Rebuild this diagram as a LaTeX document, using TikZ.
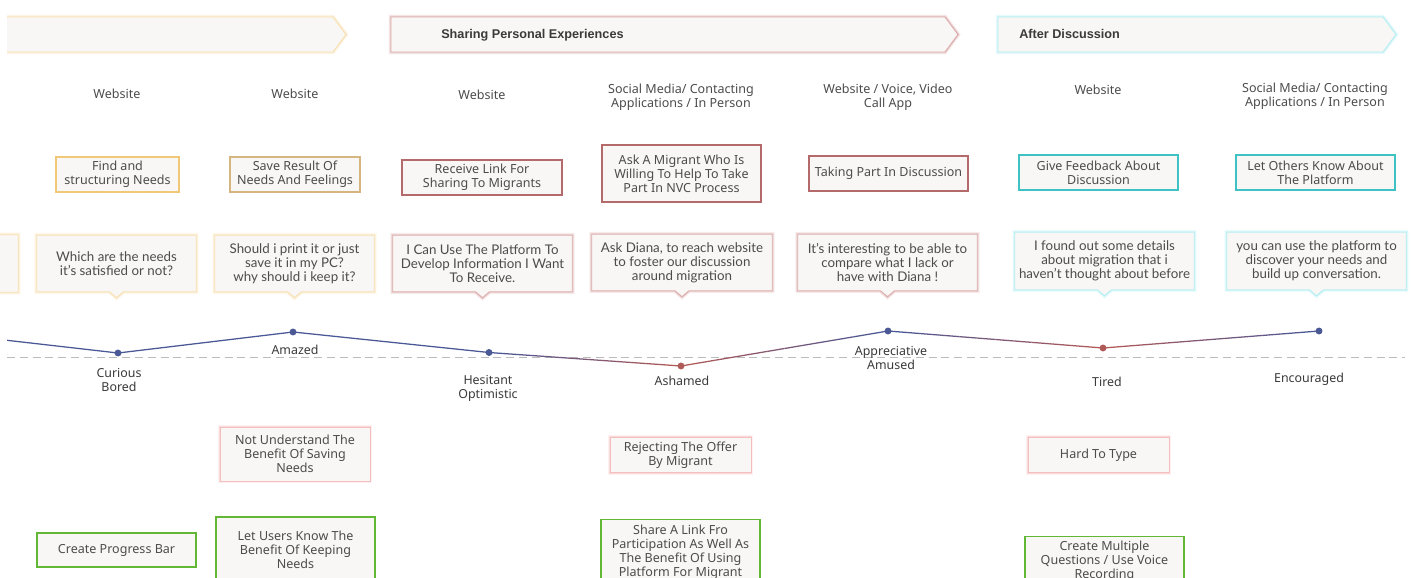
\documentclass[tikz,border=0pt]{standalone}
\usepackage{fontspec}
\setmainfont{Noto Sans}
\newfontfamily\bubblefont{Lato}
\newfontfamily\phasefont{Liberation Sans}
\usetikzlibrary{calc,backgrounds}

\definecolor{paper}{HTML}{F8F7F5}
\definecolor{inktext}{HTML}{4C4C4C}
\definecolor{inkdark}{HTML}{3A3A3A}
\definecolor{sandline}{HTML}{F0C878}
\definecolor{tanline}{HTML}{D6B680}
\definecolor{roseline}{HTML}{B46A6A}
\definecolor{tealline}{HTML}{3EC2C4}
\definecolor{leafline}{HTML}{62B834}
\definecolor{sandglow}{HTML}{F5D69A}
\definecolor{roseglow}{HTML}{D09090}
\definecolor{cyanglow}{HTML}{9EE8EE}
\definecolor{painglow}{HTML}{F2A8A8}
\definecolor{moodblue}{HTML}{4A5896}
\definecolor{moodred}{HTML}{B05A58}
\definecolor{dashgrey}{HTML}{BBBBBB}

\tikzset{
  sz/.style 2 args={minimum width=#1*0.75pt, minimum height=#2*0.75pt},
  glowing/.style={
    preaction={draw=#1, line width=3.4pt, opacity=0.16},
    preaction={draw=#1, line width=2pt, opacity=0.30},
    draw=#1!75!white, line width=0.7pt},
  channel/.style={font=\fontsize{9.4}{10.5}\selectfont, text=inktext, align=center, inner sep=0},
  taskbox/.style={draw=#1, line width=0.9pt, fill=paper, align=center, inner sep=0,
    font=\fontsize{9.4}{10.5}\selectfont, text=inktext},
  thought/.style={align=center, inner sep=0, font=\bubblefont\fontsize{10}{10.6}\selectfont, text=inktext},
  painbox/.style={glowing=painglow, fill=paper, align=center, inner sep=0,
    font=\fontsize{9.4}{10.5}\selectfont, text=inktext},
  ideabox/.style={draw=leafline, line width=1pt, fill=paper, align=center, inner sep=0,
    font=\fontsize{9.4}{10.5}\selectfont, text=inktext},
  phase/.style={font=\phasefont\bfseries\fontsize{9.5}{10}\selectfont, text=inkdark, anchor=west, inner sep=0},
  mood/.style={font=\fontsize{9.3}{10.5}\selectfont, text=inkdark, align=center, inner sep=0},
  dot/.style={circle, fill=#1, inner sep=0, minimum size=5.2pt},
}

% speech-bubble outline drawn behind a text node
\newcommand\callout[2]{%
  \begin{scope}[on background layer]
    \path[glowing=#2, fill=paper]
      (#1.north west) -- (#1.north east) -- (#1.south east)
      -- ($(#1.south)+(7,0)$) -- ($(#1.south)+(0,6)$) -- ($(#1.south)+(-7,0)$)
      -- (#1.south west) -- cycle;
  \end{scope}}

% line segment fading from one colour into another
\newcommand\fadeseg[4]{%
  \foreach \i in {0,...,11}{%
    \pgfmathsetmacro\mix{100*\i/11}%
    \draw[color=#4!\mix!#3, line width=0.95pt]
      ($(#1)!{\i/12}!(#2)$) -- ($(#1)!{(\i+1)/12}!(#2)$);}}

\begin{document}
\begin{tikzpicture}[x=0.75pt, y=-0.75pt]
\useasboundingbox (0,0) rectangle (1411,578);
\clip (7,0) rectangle (1411,578);

% ---------- phase banners ----------
\path[glowing=sandglow, fill=paper] (-10,17) -- (333,17) -- (346,34.5) -- (333,52) -- (-10,52) -- cycle;
\path[glowing=roseglow, fill=paper] (391,17) -- (945,17) -- (958,34.5) -- (945,52) -- (391,52) -- cycle;
\path[glowing=cyanglow, fill=paper] (998,17) -- (1383,17) -- (1396,34.5) -- (1383,52) -- (998,52) -- cycle;
\node[phase] (ph2) at (441,35) {Sharing Personal Experiences};
\node[phase] (ph3) at (1019,33.5) {After Discussion};

% ---------- channels ----------
\node[channel] (ch1) at (117,94) {Website};
\node[channel] (ch2) at (295,94) {Website};
\node[channel] (ch3) at (482,95) {Website};
\node[channel] (ch4) at (681,97) {Social Media/ Contacting\\Applications / In Person};
\node[channel] (ch5) at (888,97) {Website / Voice, Video\\Call App};
\node[channel] (ch6) at (1098,90) {Website};
\node[channel] (ch7) at (1315,96) {Social Media/ Contacting\\Applications / In Person};

% ---------- user actions ----------
\node[taskbox=sandline, sz={123}{35}] (a1) at (117.5,174.5) {Find and\\structuring Needs};
\node[taskbox=tanline, sz={130}{35}] (a2) at (295,174.5) {Save Result Of\\Needs And Feelings};
\node[taskbox=roseline, sz={160}{35}] (a3) at (482,177.5) {Receive Link For\\Sharing To Migrants};
\node[taskbox=roseline, sz={159}{57}] (a4) at (681.5,173.5) {Ask A Migrant Who Is\\Willing To Help To Take\\Part In NVC Process};
\node[taskbox=roseline, sz={159}{35}] (a5) at (888.5,173.5) {Taking Part In Discussion};
\node[taskbox=tealline, sz={159}{35}] (a6) at (1098.5,172.5) {Give Feedback About\\Discussion};
\node[taskbox=tealline, sz={159}{35}] (a7) at (1315.5,172.5) {Let Others Know About\\The Platform};

% ---------- thoughts ----------
\node[thought, sz={160}{57}] (t0) at (-62,263.5) {};
\node[thought, sz={159}{56}] (t1) at (116.5,263.5) {Which are the needs\\it’s satisfied or not?};
\node[thought, sz={159}{56}] (t2) at (294.5,263.5) {Should i print it or just\\save it in my PC?\\why should i keep it?};
\node[thought, sz={179}{56}] (t3) at (482.5,263.5) {I Can Use The Platform To\\Develop Information I Want\\To Receive.};
\node[thought, sz={180}{56}] (t4) at (682,262.5) {Ask Diana, to reach website\\to foster our discussion\\around migration};
\node[thought, sz={179}{56}] (t5) at (887.5,262.5) {It’s interesting to be able to\\compare what I lack or\\have with Diana !};
\node[thought, sz={179}{57}] (t6) at (1104.5,261) {I found out some details\\about migration that i\\haven’t thought about before};
\node[thought, sz={179}{57}] (t7) at (1316.5,261) {you can use the platform to\\discover your needs and\\build up conversation.};
\callout{t0}{sandglow}
\callout{t1}{sandglow}
\callout{t2}{sandglow}
\callout{t3}{roseglow}
\callout{t4}{roseglow}
\callout{t5}{roseglow}
\callout{t6}{cyanglow}
\callout{t7}{cyanglow}

% ---------- emotion curve ----------
\draw[dashgrey, line width=1.1pt, dash pattern=on 6pt off 3.6pt] (7,357.5) -- (1405,357.5);
\coordinate (e0) at (0,339.5);
\coordinate (e1) at (118,353);
\coordinate (e2) at (293,332);
\coordinate (e3) at (489,352.5);
\coordinate (e4) at (681,366);
\coordinate (e5) at (888,331);
\coordinate (e6) at (1103,348);
\coordinate (e7) at (1319,331);
\draw[moodblue, line width=0.95pt] (e0) -- (e1) -- (e2) -- (e3);
\fadeseg{e3}{e4}{moodblue}{moodred}
\fadeseg{e4}{e5}{moodred}{moodblue}
\fadeseg{e5}{e6}{moodblue}{moodred}
\fadeseg{e6}{e7}{moodred}{moodblue}
\node[dot=moodblue] (d1) at (e1) {};
\node[dot=moodblue] (d2) at (e2) {};
\node[dot=moodblue] (d3) at (e3) {};
\node[dot=moodred] (d4) at (e4) {};
\node[dot=moodblue] (d5) at (e5) {};
\node[dot=moodred] (d6) at (e6) {};
\node[dot=moodblue] (d7) at (e7) {};

\node[mood] (m1) at (119,380) {Curious\\Bored};
\node[mood] (m2) at (295,350) {Amazed};
\node[mood] (m3) at (488,388) {Hesitant\\Optimistic};
\node[mood] (m4) at (682,381) {Ashamed};
\node[mood] (m5) at (891,358) {Appreciative\\Amused};
\node[mood] (m6) at (1107,382) {Tired};
\node[mood] (m7) at (1309,379) {Encouraged};

% ---------- pain points ----------
\node[painbox, sz={150}{54}] (p1) at (295,454) {Not Understand The\\Benefit Of Saving\\Needs};
\node[painbox, sz={141}{35}] (p2) at (680.5,455) {Rejecting The Offer\\By Migrant};
\node[painbox, sz={141}{35}] (p3) at (1098.5,455) {Hard To Type};

% ---------- opportunities ----------
\node[ideabox, sz={159}{34}] (o1) at (116.5,550) {Create Progress Bar};
\node[ideabox, sz={159}{65}] (o2) at (295.5,549.5) {Let Users Know The\\Benefit Of Keeping\\Needs};
\node[ideabox, sz={159}{65}] (o3) at (680.5,552) {Share A Link Fro\\Participation As Well As\\The Benefit Of Using\\Platform For Migrant};
\node[ideabox, sz={159}{50}] (o4) at (1104.5,561.5) {Create Multiple\\Questions / Use Voice\\Recording};
\end{tikzpicture}
\end{document}
